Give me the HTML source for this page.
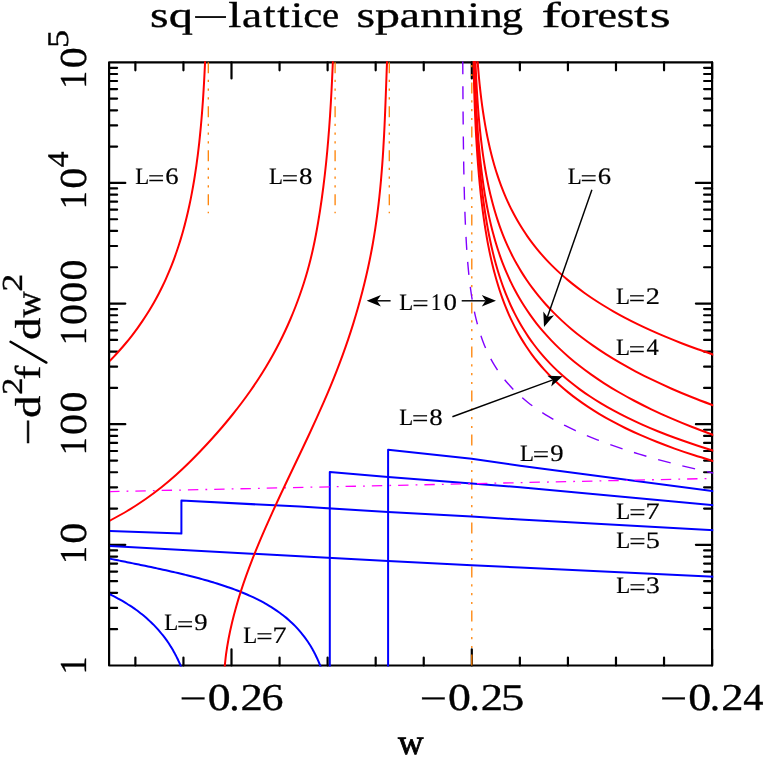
<!DOCTYPE html>
<html><head><meta charset="utf-8"><title>sq-lattice spanning forests</title>
<style>html,body{margin:0;padding:0;background:#fff}svg{display:block}text{font-family:"Liberation Serif",serif;fill:#000;text-rendering:geometricPrecision}</style></head><body>
<svg width="766" height="757" viewBox="0 0 766 757">
<rect width="766" height="757" fill="#fff"/>
<defs><clipPath id="cp"><rect x="110" y="61.2" width="603.2" height="605.4"/></clipPath></defs>
<path d="M135.38 665.5L135.38 657.5M135.38 62.3L135.38 70.3M183.44 665.5L183.44 657.5M183.44 62.3L183.44 70.3M231.5 665.5L231.5 649.3M231.5 62.3L231.5 78.5M279.56 665.5L279.56 657.5M279.56 62.3L279.56 70.3M327.62 665.5L327.62 657.5M327.62 62.3L327.62 70.3M375.68 665.5L375.68 657.5M375.68 62.3L375.68 70.3M423.74 665.5L423.74 657.5M423.74 62.3L423.74 70.3M471.8 665.5L471.8 649.3M471.8 62.3L471.8 78.5M519.86 665.5L519.86 657.5M519.86 62.3L519.86 70.3M567.92 665.5L567.92 657.5M567.92 62.3L567.92 70.3M615.98 665.5L615.98 657.5M615.98 62.3L615.98 70.3M664.04 665.5L664.04 657.5M664.04 62.3L664.04 70.3M712.1 665.5L712.1 649.3M712.1 62.3L712.1 78.5M109.1 629.18L117.1 629.18M712.1 629.18L704.1 629.18M109.1 607.94L117.1 607.94M712.1 607.94L704.1 607.94M109.1 592.87L117.1 592.87M712.1 592.87L704.1 592.87M109.1 581.18L117.1 581.18M712.1 581.18L704.1 581.18M109.1 571.62L117.1 571.62M712.1 571.62L704.1 571.62M109.1 563.55L117.1 563.55M712.1 563.55L704.1 563.55M109.1 556.55L117.1 556.55M712.1 556.55L704.1 556.55M109.1 550.38L117.1 550.38M712.1 550.38L704.1 550.38M109.1 544.86L125.3 544.86M712.1 544.86L695.9 544.86M109.1 508.54L117.1 508.54M712.1 508.54L704.1 508.54M109.1 487.3L117.1 487.3M712.1 487.3L704.1 487.3M109.1 472.23L117.1 472.23M712.1 472.23L704.1 472.23M109.1 460.54L117.1 460.54M712.1 460.54L704.1 460.54M109.1 450.98L117.1 450.98M712.1 450.98L704.1 450.98M109.1 442.91L117.1 442.91M712.1 442.91L704.1 442.91M109.1 435.91L117.1 435.91M712.1 435.91L704.1 435.91M109.1 429.74L117.1 429.74M712.1 429.74L704.1 429.74M109.1 424.22L125.3 424.22M712.1 424.22L695.9 424.22M109.1 387.9L117.1 387.9M712.1 387.9L704.1 387.9M109.1 366.66L117.1 366.66M712.1 366.66L704.1 366.66M109.1 351.59L117.1 351.59M712.1 351.59L704.1 351.59M109.1 339.9L117.1 339.9M712.1 339.9L704.1 339.9M109.1 330.34L117.1 330.34M712.1 330.34L704.1 330.34M109.1 322.27L117.1 322.27M712.1 322.27L704.1 322.27M109.1 315.27L117.1 315.27M712.1 315.27L704.1 315.27M109.1 309.1L117.1 309.1M712.1 309.1L704.1 309.1M109.1 303.58L125.3 303.58M712.1 303.58L695.9 303.58M109.1 267.26L117.1 267.26M712.1 267.26L704.1 267.26M109.1 246.02L117.1 246.02M712.1 246.02L704.1 246.02M109.1 230.95L117.1 230.95M712.1 230.95L704.1 230.95M109.1 219.26L117.1 219.26M712.1 219.26L704.1 219.26M109.1 209.7L117.1 209.7M712.1 209.7L704.1 209.7M109.1 201.63L117.1 201.63M712.1 201.63L704.1 201.63M109.1 194.63L117.1 194.63M712.1 194.63L704.1 194.63M109.1 188.46L117.1 188.46M712.1 188.46L704.1 188.46M109.1 182.94L125.3 182.94M712.1 182.94L695.9 182.94M109.1 146.62L117.1 146.62M712.1 146.62L704.1 146.62M109.1 125.38L117.1 125.38M712.1 125.38L704.1 125.38M109.1 110.31L117.1 110.31M712.1 110.31L704.1 110.31M109.1 98.62L117.1 98.62M712.1 98.62L704.1 98.62M109.1 89.06L117.1 89.06M712.1 89.06L704.1 89.06M109.1 80.99L117.1 80.99M712.1 80.99L704.1 80.99M109.1 73.99L117.1 73.99M712.1 73.99L704.1 73.99M109.1 67.82L117.1 67.82M712.1 67.82L704.1 67.82" stroke="#000" stroke-width="2.2" stroke-linecap="round" fill="none"/>
<rect x="109.1" y="62.3" width="603" height="603.2" fill="none" stroke="#000" stroke-width="2.2" stroke-linejoin="round"/>
<g clip-path="url(#cp)" fill="none" stroke-linejoin="round">
<path d="M208.3 62.3L208.3 213.2" stroke="#ff8000" stroke-width="1.3" stroke-dasharray="11 6.4 2.2 6.6 2.2 6.6 2.2 6.8"/>
<path d="M335.1 62.3L335.1 213.2" stroke="#ff8000" stroke-width="1.3" stroke-dasharray="11 6.4 2.2 6.6 2.2 6.6 2.2 6.8"/>
<path d="M389.3 62.3L389.3 213.2" stroke="#ff8000" stroke-width="1.3" stroke-dasharray="11 6.4 2.2 6.6 2.2 6.6 2.2 6.8"/>
<path d="M471.8 665.5L471.8 62.3" stroke="#ff8000" stroke-width="1.3" stroke-dasharray="11 6.4 2.2 6.6 2.2 6.6 2.2 6.8"/>
<path d="M107 545.8L300 556.3L388.1 560.9L471.7 565.2L520 567.6L716 576.8" stroke="#0000ff" stroke-width="2"/>
<path d="M107 530.9L181.4 533.6L181.4 500.6L300 506.6L388.1 512L471.7 516.6L520 519.6L716 530.3" stroke="#0000ff" stroke-width="2"/>
<path d="M329.8 670L329.8 471.9L388.1 477.1L471.7 483.5L520 487.2L716 505.5" stroke="#0000ff" stroke-width="2"/>
<path d="M388.1 670L388.1 449.7L471.7 458.8L520 465.8L716 491.5" stroke="#0000ff" stroke-width="2"/>
<path d="M106 557.93C106.5 558.03 108 558.33 109 558.53C110 558.73 111 558.93 112 559.13C113 559.33 114 559.53 115 559.73C116 559.93 117 560.13 118 560.33C119 560.53 120 560.74 121 560.94C122 561.14 123 561.34 124 561.54C125 561.74 126 561.95 127 562.15C128 562.35 129 562.55 130 562.75C131 562.96 132 563.16 133 563.36C134 563.57 135 563.77 136 563.98C137 564.18 138 564.39 139 564.59C140 564.8 141 565 142 565.21C143 565.42 144 565.62 145 565.83C146 566.04 147 566.25 148 566.46C149 566.67 150 566.88 151 567.09C152 567.3 153 567.51 154 567.73C155 567.94 156 568.16 157 568.37C158 568.59 159 568.8 160 569.02C161 569.24 162 569.46 163 569.67C164 569.89 165 570.12 166 570.34C167 570.56 168 570.78 169 571.01C170 571.23 171 571.46 172 571.69C173 571.92 174 572.15 175 572.38C176 572.61 177 572.84 178 573.08C179 573.31 180 573.55 181 573.79C182 574.03 183 574.27 184 574.51C185 574.76 186 575 187 575.25C188 575.5 189 575.75 190 576C191 576.25 192 576.5 193 576.76C194 577.02 195 577.28 196 577.54C197 577.8 198 578.07 199 578.34C200 578.6 201 578.87 202 579.15C203 579.42 204 579.7 205 579.98C206 580.26 207 580.54 208 580.83C209 581.12 210 581.41 211 581.71C212 582 213 582.3 214 582.6C215 582.9 216 583.21 217 583.52C218 583.83 219 584.15 220 584.47C221 584.79 222 585.11 223 585.44C224 585.77 225 586.11 226 586.45C227 586.78 228 587.13 229 587.48C230 587.83 231 588.19 232 588.55C233 588.91 234 589.28 235 589.65C236 590.03 237 590.41 238 590.79C239 591.18 240 591.58 241 591.98C242 592.38 243 592.79 244 593.21C245 593.62 246 594.05 247 594.48C248 594.91 249 595.35 250 595.81C251 596.26 252 596.72 253 597.18C254 597.65 255 598.13 256 598.62C257 599.11 258 599.61 259 600.13C260 600.64 261 601.16 262 601.7C263 602.23 264 602.78 265 603.34C266 603.9 267 604.48 268 605.07C269 605.66 270 606.26 271 606.88C272 607.5 273 608.14 274 608.8C275 609.45 276 610.12 277 610.81C278 611.51 279 612.22 280 612.95C281 613.68 282 614.43 283 615.21C284 615.99 285 616.79 286 617.62C287 618.45 288 619.31 289 620.19C290 621.08 291 621.99 292 622.94C293 623.9 294 624.88 295 625.9C296 626.93 297 627.98 298 629.09C299 630.2 300 631.35 301 632.55C302 633.76 303 635.01 304 636.33C305 637.65 306 639.02 307 640.47C308 641.93 309.4 644.13 310 645.06C310.6 645.99 310.4 645.71 310.6 646.04C310.8 646.37 311 646.7 311.2 647.04C311.4 647.37 311.6 647.72 311.8 648.06C312 648.41 312.2 648.76 312.4 649.11C312.6 649.46 312.8 649.82 313 650.18C313.2 650.54 313.4 650.91 313.6 651.28C313.8 651.65 314 652.03 314.2 652.41C314.4 652.79 314.6 653.17 314.8 653.56C315 653.96 315.2 654.35 315.4 654.75C315.6 655.15 315.8 655.56 316 655.97C316.2 656.38 316.4 656.8 316.6 657.22C316.8 657.65 317 658.07 317.2 658.51C317.4 658.95 317.6 659.39 317.8 659.83C318 660.28 318.2 660.74 318.4 661.2C318.6 661.66 318.8 662.13 319 662.6C319.2 663.08 319.4 663.56 319.6 664.05C319.8 664.55 320 665.04 320.2 665.55C320.4 666.06 320.6 666.57 320.8 667.1C321 667.62 321.2 668.16 321.4 668.7C321.6 669.24 321.8 669.79 322 670.35C322.2 670.92 322.4 671.49 322.6 672.07C322.8 672.65 323.1 673.55 323.2 673.85" stroke="#0000ff" stroke-width="2"/>
<path d="M106 592.61C106.5 592.84 108 593.53 109 594C110 594.47 111 594.95 112 595.45C113 595.94 114 596.44 115 596.96C116 597.48 117 598 118 598.54C119 599.08 120 599.63 121 600.2C122 600.76 123 601.34 124 601.93C125 602.52 126 603.12 127 603.74C128 604.36 129 605 130 605.65C131 606.3 132 606.96 133 607.65C134 608.33 135 609.03 136 609.75C137 610.47 138 611.21 139 611.97C140 612.73 141 613.51 142 614.31C143 615.11 144 615.93 145 616.78C146 617.63 147 618.51 148 619.41C149 620.31 150 621.24 151 622.2C152 623.16 153 624.15 154 625.17C155 626.2 156 627.25 157 628.35C158 629.45 159 630.58 160 631.77C161 632.95 162 634.17 163 635.45C164 636.73 165 638.05 166 639.44C167 640.83 168.4 642.92 169 643.79C169.6 644.67 169.4 644.4 169.6 644.71C169.8 645.02 170 645.33 170.2 645.65C170.4 645.97 170.6 646.28 170.8 646.61C171 646.93 171.2 647.25 171.4 647.58C171.6 647.91 171.8 648.24 172 648.57C172.2 648.91 172.4 649.25 172.6 649.59C172.8 649.93 173 650.28 173.2 650.62C173.4 650.97 173.6 651.33 173.8 651.68C174 652.04 174.2 652.4 174.4 652.76C174.6 653.13 174.8 653.5 175 653.87C175.2 654.24 175.4 654.62 175.6 655C175.8 655.38 176 655.77 176.2 656.16C176.4 656.55 176.6 656.94 176.8 657.34C177 657.74 177.2 658.15 177.4 658.55C177.6 658.96 177.8 659.38 178 659.8C178.2 660.22 178.4 660.64 178.6 661.07C178.8 661.5 179 661.94 179.2 662.38C179.4 662.82 179.6 663.27 179.8 663.72C180 664.18 180.2 664.64 180.4 665.11C180.6 665.57 180.8 666.04 181 666.52C181.2 667 181.4 667.49 181.6 667.98C181.8 668.48 182 668.98 182.2 669.49C182.4 670 182.6 670.51 182.8 671.04C183 671.56 183.3 672.37 183.4 672.64" stroke="#0000ff" stroke-width="2"/>
<path d="M109.1 491.62L716 478.37" stroke="#ff00ff" stroke-width="1.3" stroke-dasharray="10.4 7.1 1.8 6.98"/>
<path d="M462.76 61.2C462.77 62.73 462.79 67.34 462.81 70.37C462.82 73.41 462.84 76.41 462.85 79.39C462.87 82.36 462.89 85.32 462.91 88.24C462.92 91.17 462.94 94.06 462.96 96.94C462.98 99.81 463 102.66 463.03 105.48C463.05 108.3 463.07 111.1 463.09 113.87C463.12 116.64 463.14 119.39 463.17 122.12C463.2 124.84 463.22 127.54 463.25 130.22C463.28 132.89 463.31 135.55 463.34 138.17C463.37 140.8 463.41 143.41 463.44 145.99C463.47 148.58 463.51 151.14 463.55 153.68C463.58 156.22 463.62 158.73 463.66 161.23C463.71 163.72 463.75 166.2 463.79 168.65C463.84 171.1 463.88 173.53 463.93 175.95C463.98 178.36 464.03 180.75 464.09 183.12C464.14 185.49 464.2 187.84 464.26 190.17C464.31 192.5 464.38 194.81 464.44 197.1C464.5 199.39 464.57 201.66 464.64 203.91C464.71 206.17 464.79 208.4 464.86 210.62C464.94 212.84 465.02 215.03 465.1 217.22C465.19 219.4 465.28 221.56 465.37 223.71C465.46 225.85 465.56 227.98 465.66 230.09C465.76 232.2 465.86 234.3 465.98 236.38C466.09 238.46 466.2 240.52 466.32 242.57C466.44 244.62 466.57 246.65 466.7 248.66C466.83 250.68 466.97 252.68 467.12 254.67C467.26 256.65 467.41 258.63 467.57 260.58C467.73 262.54 467.89 264.48 468.07 266.41C468.24 268.34 468.42 270.26 468.61 272.16C468.8 274.07 469 275.95 469.21 277.83C469.41 279.71 469.63 281.57 469.86 283.42C470.08 285.28 470.32 287.12 470.57 288.94C470.82 290.77 471.08 292.59 471.35 294.39C471.62 296.2 471.9 297.99 472.2 299.77C472.5 301.56 472.81 303.33 473.14 305.09C473.46 306.85 473.8 308.6 474.16 310.35C474.51 312.09 474.88 313.82 475.27 315.54C475.66 317.27 476.07 318.98 476.5 320.68C476.92 322.39 477.37 324.08 477.84 325.77C478.3 327.46 478.79 329.14 479.3 330.81C479.81 332.48 480.34 334.15 480.9 335.8C481.46 337.46 482.05 339.11 482.66 340.75C483.27 342.39 483.91 344.03 484.58 345.66C485.25 347.29 485.94 348.91 486.68 350.53C487.41 352.15 488.17 353.76 488.98 355.36C489.78 356.97 490.61 358.57 491.49 360.17C492.37 361.76 493.28 363.36 494.24 364.94C495.2 366.53 496.2 368.11 497.25 369.69C498.31 371.27 499.4 372.84 500.55 374.42C501.7 375.99 502.9 377.56 504.16 379.12C505.41 380.69 506.72 382.25 508.1 383.81C509.48 385.37 510.91 386.93 512.42 388.49C513.93 390.04 515.5 391.6 517.15 393.15C518.79 394.7 520.51 396.25 522.32 397.8C524.12 399.36 526 400.9 527.97 402.45C529.95 404 532.01 405.55 534.17 407.1C536.33 408.65 538.58 410.2 540.94 411.75C543.31 413.3 545.77 414.85 548.36 416.4C550.94 417.96 553.64 419.51 556.47 421.06C559.3 422.62 562.25 424.17 565.35 425.73C568.45 427.29 571.67 428.85 575.06 430.42C578.45 431.98 581.98 433.54 585.69 435.11C589.41 436.68 593.27 438.25 597.33 439.83C601.39 441.4 605.61 442.98 610.06 444.57C614.5 446.15 619.13 447.74 623.99 449.33C628.85 450.92 633.91 452.52 639.23 454.12C644.55 455.72 650.09 457.33 655.91 458.94C661.74 460.55 667.8 462.17 674.17 463.79C680.54 465.42 687.17 467.05 694.14 468.68C701.11 470.32 712.36 472.79 716 473.61" stroke="#8000ff" stroke-width="1.4" stroke-dasharray="13 12.1"/>
<path d="M106 364.68C107.2 363.46 110.9 359.78 113.22 357.33C115.54 354.89 117.77 352.45 119.93 350.02C122.09 347.59 124.17 345.17 126.17 342.75C128.18 340.33 130.11 337.92 131.97 335.52C133.83 333.12 135.63 330.72 137.36 328.33C139.09 325.93 140.76 323.55 142.37 321.17C143.98 318.79 145.53 316.42 147.02 314.06C148.52 311.69 149.96 309.33 151.35 306.98C152.74 304.63 154.08 302.28 155.37 299.94C156.67 297.6 157.91 295.27 159.11 292.95C160.31 290.62 161.47 288.3 162.59 285.99C163.7 283.67 164.78 281.37 165.82 279.07C166.85 276.77 167.85 274.47 168.82 272.19C169.78 269.9 170.71 267.62 171.61 265.34C172.5 263.07 173.37 260.8 174.2 258.54C175.03 256.28 175.84 254.03 176.61 251.78C177.39 249.53 178.13 247.29 178.85 245.05C179.57 242.82 180.26 240.59 180.93 238.37C181.6 236.15 182.25 233.93 182.87 231.72C183.49 229.51 184.09 227.31 184.67 225.12C185.24 222.92 185.8 220.73 186.34 218.55C186.88 216.37 187.39 214.19 187.89 212.02C188.39 209.85 188.87 207.69 189.34 205.53C189.8 203.37 190.25 201.22 190.68 199.08C191.11 196.94 191.52 194.8 191.93 192.67C192.33 190.54 192.71 188.41 193.09 186.3C193.46 184.18 193.82 182.07 194.16 179.96C194.51 177.86 194.84 175.76 195.17 173.67C195.49 171.58 195.8 169.49 196.1 167.41C196.4 165.34 196.68 163.26 196.96 161.2C197.24 159.13 197.51 157.07 197.77 155.02C198.02 152.97 198.27 150.92 198.51 148.88C198.75 146.84 198.99 144.81 199.21 142.79C199.43 140.76 199.65 138.74 199.85 136.73C200.06 134.71 200.26 132.71 200.45 130.71C200.65 128.71 200.83 126.71 201.01 124.72C201.19 122.74 201.36 120.76 201.53 118.78C201.7 116.81 201.86 114.84 202.01 112.88C202.17 110.92 202.32 108.96 202.46 107.02C202.61 105.07 202.74 103.13 202.88 101.19C203.01 99.26 203.14 97.33 203.26 95.41C203.39 93.48 203.51 91.57 203.62 89.66C203.74 87.75 203.85 85.85 203.96 83.95C204.07 82.05 204.17 80.17 204.27 78.28C204.37 76.4 204.47 74.52 204.56 72.65C204.65 70.78 204.74 68.92 204.83 67.06C204.91 65.21 205 63.36 205.08 61.51C205.16 59.67 205.27 56.92 205.31 56" stroke="#ff0000" stroke-width="2"/>
<path d="M105.52 523C109.13 521 120.47 515 127.17 511C133.87 507 139.93 503 145.7 499C151.47 495 156.73 491 161.77 487C166.81 483 171.46 479 175.95 475C180.44 471 184.62 467 188.72 463C192.82 459 196.7 455 200.53 451C204.36 447 208.07 443 211.69 439C215.31 435 218.83 431 222.25 427C225.67 423 228.98 419 232.19 415C235.4 411 238.52 407 241.53 403C244.54 399 247.45 395 250.26 391C253.07 387 255.78 383 258.39 379C261 375 263.51 371 265.92 367C268.33 363 270.65 359 272.87 355C275.09 351 277.21 347 279.25 343C281.29 339 283.24 335 285.11 331C286.98 327 288.76 323 290.47 319C292.18 315 293.8 311 295.36 307C296.92 303 298.39 299 299.81 295C301.23 291 302.57 287 303.85 283C305.13 279 306.34 275 307.47 271C308.6 267 309.65 263 310.64 259C311.63 255 312.55 251 313.42 247C314.29 243 315.09 239 315.85 235C316.62 231 317.32 227 318.01 223C318.69 219 319.34 215 319.96 211C320.58 207 321.17 203 321.73 199C322.29 195 322.82 191 323.33 187C323.84 183 324.32 179 324.78 175C325.24 171 325.68 167 326.09 163C326.5 159 326.89 155 327.26 151C327.63 147 327.97 143 328.3 139C328.63 135 328.94 131 329.24 127C329.54 123 329.82 119 330.08 115C330.34 111 330.58 107 330.82 103C331.06 99 331.28 95 331.49 91C331.7 87 331.91 83 332.1 79C332.29 75 332.46 71 332.64 67C332.81 63 333.06 57 333.15 55" stroke="#ff0000" stroke-width="2"/>
<path d="M224.41 670C224.69 667.37 225.37 659.49 226.07 654.23C226.77 648.97 227.63 643.72 228.62 638.46C229.61 633.2 230.75 627.95 232 622.69C233.25 617.43 234.63 612.18 236.12 606.92C237.61 601.66 239.21 596.41 240.91 591.15C242.61 585.89 244.42 580.63 246.3 575.38C248.19 570.12 250.17 564.88 252.22 559.62C254.27 554.37 256.4 549.11 258.59 543.85C260.78 538.59 263.04 533.34 265.34 528.08C267.64 522.82 270 517.57 272.39 512.31C274.78 507.05 277.23 501.8 279.68 496.54C282.13 491.28 284.62 486.03 287.11 480.77C289.6 475.51 292.12 470.26 294.62 465C297.12 459.74 299.64 454.49 302.13 449.23C304.62 443.97 307.1 438.72 309.55 433.46C312 428.2 314.44 422.95 316.82 417.69C319.2 412.43 321.55 407.18 323.84 401.92C326.13 396.66 328.39 391.41 330.56 386.15C332.73 380.89 334.84 375.63 336.88 370.38C338.92 365.12 340.9 359.88 342.81 354.62C344.72 349.37 346.55 344.11 348.32 338.85C350.09 333.59 351.79 328.34 353.42 323.08C355.05 317.82 356.62 312.57 358.11 307.31C359.6 302.05 361.02 296.8 362.38 291.54C363.74 286.28 365.02 281.03 366.24 275.77C367.46 270.51 368.6 265.26 369.68 260C370.76 254.74 371.76 249.49 372.7 244.23C373.64 238.97 374.5 233.72 375.3 228.46C376.1 223.2 376.82 217.95 377.5 212.69C378.18 207.43 378.79 202.18 379.36 196.92C379.93 191.66 380.44 186.41 380.91 181.15C381.38 175.89 381.81 170.63 382.2 165.38C382.59 160.12 382.94 154.88 383.26 149.62C383.58 144.37 383.87 139.11 384.14 133.85C384.41 128.59 384.65 123.34 384.88 118.08C385.11 112.82 385.31 107.57 385.52 102.31C385.72 97.05 385.92 91.8 386.11 86.54C386.3 81.28 386.48 76.03 386.68 70.77C386.88 65.51 387.19 57.63 387.29 55" stroke="#ff0000" stroke-width="2"/>
<path d="M477.23 56C477.31 57.03 477.55 60.12 477.71 62.18C477.87 64.25 478.02 66.31 478.18 68.37C478.35 70.43 478.52 72.5 478.7 74.56C478.89 76.62 479.08 78.69 479.28 80.75C479.48 82.81 479.69 84.88 479.9 86.94C480.12 89.01 480.35 91.07 480.59 93.14C480.83 95.2 481.07 97.27 481.33 99.34C481.59 101.4 481.86 103.47 482.14 105.54C482.42 107.6 482.72 109.67 483.02 111.74C483.33 113.81 483.65 115.88 483.98 117.95C484.31 120.01 484.65 122.08 485.01 124.15C485.37 126.22 485.74 128.29 486.13 130.36C486.52 132.43 486.92 134.51 487.34 136.58C487.76 138.65 488.2 140.72 488.66 142.79C489.11 144.86 489.58 146.94 490.07 149.01C490.57 151.08 491.08 153.16 491.61 155.23C492.14 157.3 492.69 159.38 493.27 161.45C493.84 163.53 494.44 165.6 495.06 167.68C495.68 169.75 496.33 171.83 497 173.9C497.67 175.98 498.37 178.06 499.1 180.13C499.82 182.21 500.58 184.29 501.36 186.37C502.15 188.44 502.96 190.52 503.81 192.6C504.66 194.68 505.53 196.76 506.45 198.84C507.37 200.92 508.32 203 509.31 205.08C510.3 207.16 511.32 209.24 512.39 211.32C513.46 213.4 514.57 215.48 515.73 217.56C516.88 219.65 518.08 221.73 519.33 223.81C520.58 225.89 521.87 227.98 523.22 230.06C524.57 232.14 525.96 234.23 527.42 236.31C528.88 238.4 530.39 240.48 531.96 242.57C533.53 244.65 535.16 246.74 536.86 248.82C538.56 250.91 540.33 252.99 542.16 255.08C544 257.17 545.9 259.26 547.88 261.34C549.87 263.43 551.92 265.52 554.07 267.61C556.21 269.69 558.43 271.78 560.74 273.87C563.06 275.96 565.46 278.05 567.96 280.14C570.46 282.23 573.05 284.32 575.75 286.41C578.45 288.5 581.25 290.59 584.17 292.69C587.08 294.78 590.11 296.87 593.26 298.96C596.41 301.05 599.67 303.15 603.08 305.24C606.48 307.33 610.01 309.43 613.69 311.52C617.37 313.61 621.17 315.71 625.15 317.8C629.12 319.9 633.23 321.99 637.53 324.09C641.82 326.18 646.26 328.28 650.9 330.38C655.53 332.47 660.33 334.57 665.34 336.67C670.35 338.77 675.53 340.86 680.94 342.96C686.35 345.06 691.95 347.16 697.8 349.26C703.64 351.35 712.97 354.5 716 355.55" stroke="#ff0000" stroke-width="2"/>
<path d="M475.25 56C475.29 56.95 475.38 59.8 475.46 61.72C475.53 63.64 475.62 65.57 475.7 67.51C475.79 69.45 475.88 71.4 475.97 73.36C476.07 75.32 476.16 77.3 476.26 79.28C476.37 81.27 476.47 83.26 476.58 85.27C476.7 87.28 476.81 89.3 476.93 91.33C477.06 93.36 477.18 95.4 477.32 97.45C477.45 99.5 477.59 101.56 477.74 103.64C477.89 105.71 478.04 107.8 478.2 109.9C478.36 111.99 478.53 114.1 478.71 116.22C478.89 118.34 479.08 120.47 479.27 122.61C479.47 124.75 479.68 126.91 479.89 129.07C480.11 131.24 480.34 133.41 480.58 135.6C480.82 137.79 481.07 139.98 481.34 142.19C481.6 144.4 481.88 146.62 482.17 148.85C482.46 151.09 482.77 153.33 483.09 155.58C483.42 157.84 483.76 160.1 484.12 162.38C484.47 164.65 484.85 166.94 485.24 169.24C485.64 171.54 486.05 173.85 486.49 176.17C486.93 178.49 487.39 180.82 487.87 183.17C488.35 185.51 488.86 187.87 489.4 190.23C489.93 192.6 490.49 194.98 491.08 197.36C491.67 199.75 492.29 202.15 492.95 204.56C493.6 206.98 494.29 209.4 495.01 211.83C495.74 214.26 496.49 216.71 497.3 219.16C498.1 221.62 498.93 224.09 499.82 226.57C500.71 229.04 501.63 231.53 502.61 234.03C503.59 236.53 504.62 239.05 505.7 241.57C506.79 244.09 507.92 246.63 509.12 249.17C510.32 251.72 511.58 254.27 512.9 256.84C514.23 259.41 515.62 261.99 517.09 264.58C518.56 267.17 520.09 269.77 521.72 272.38C523.34 275 525.04 277.62 526.84 280.26C528.63 282.89 530.51 285.54 532.5 288.2C534.49 290.85 536.56 293.52 538.76 296.2C540.96 298.88 543.26 301.57 545.7 304.28C548.13 306.98 550.67 309.69 553.36 312.42C556.06 315.14 558.87 317.88 561.85 320.62C564.83 323.37 567.94 326.13 571.23 328.9C574.53 331.67 577.97 334.45 581.61 337.24C585.26 340.03 589.07 342.84 593.1 345.65C597.13 348.47 601.35 351.29 605.81 354.13C610.27 356.97 614.93 359.81 619.86 362.67C624.8 365.53 629.96 368.4 635.42 371.29C640.87 374.17 646.58 377.06 652.62 379.97C658.66 382.87 664.97 385.78 671.65 388.71C678.33 391.64 685.32 394.58 692.71 397.52C700.1 400.47 712.12 404.93 716 406.41" stroke="#ff0000" stroke-width="2"/>
<path d="M474.35 56C474.38 57.15 474.47 60.6 474.54 62.91C474.61 65.22 474.68 67.53 474.75 69.85C474.82 72.18 474.9 74.51 474.98 76.85C475.06 79.18 475.15 81.53 475.24 83.88C475.33 86.23 475.42 88.59 475.52 90.96C475.62 93.33 475.72 95.7 475.84 98.08C475.95 100.46 476.06 102.85 476.18 105.24C476.31 107.64 476.44 110.04 476.57 112.45C476.71 114.86 476.85 117.28 477 119.7C477.15 122.12 477.31 124.55 477.48 126.99C477.64 129.43 477.82 131.88 478 134.33C478.19 136.78 478.38 139.24 478.59 141.71C478.79 144.17 479.01 146.65 479.24 149.13C479.46 151.61 479.7 154.1 479.95 156.59C480.21 159.09 480.47 161.59 480.75 164.1C481.03 166.61 481.32 169.13 481.63 171.65C481.94 174.17 482.27 176.7 482.61 179.24C482.95 181.78 483.31 184.33 483.69 186.88C484.07 189.43 484.47 191.99 484.89 194.56C485.32 197.13 485.76 199.7 486.23 202.28C486.69 204.86 487.18 207.45 487.7 210.05C488.22 212.64 488.76 215.24 489.34 217.85C489.91 220.46 490.52 223.08 491.15 225.71C491.79 228.33 492.46 230.96 493.16 233.6C493.87 236.24 494.61 238.88 495.39 241.54C496.18 244.19 497 246.85 497.86 249.52C498.73 252.18 499.64 254.86 500.6 257.54C501.57 260.22 502.57 262.91 503.64 265.6C504.71 268.3 505.82 271 507 273.71C508.19 276.42 509.42 279.14 510.74 281.87C512.05 284.59 513.42 287.32 514.87 290.06C516.32 292.8 517.84 295.54 519.45 298.3C521.07 301.05 522.75 303.81 524.54 306.58C526.32 309.35 528.19 312.12 530.17 314.9C532.15 317.68 534.22 320.47 536.41 323.27C538.61 326.06 540.9 328.87 543.33 331.68C545.77 334.49 548.31 337.31 551.01 340.13C553.7 342.96 556.52 345.79 559.51 348.63C562.5 351.47 565.62 354.31 568.94 357.16C572.25 360.02 575.71 362.88 579.39 365.75C583.06 368.61 586.9 371.49 590.97 374.37C595.04 377.25 599.3 380.14 603.81 383.04C608.32 385.93 613.04 388.84 618.04 391.75C623.04 394.66 628.27 397.58 633.82 400.5C639.36 403.43 645.16 406.36 651.31 409.3C657.45 412.24 663.88 415.18 670.69 418.14C677.5 421.09 684.63 424.05 692.18 427.02C699.73 429.99 712.03 434.46 716 435.94" stroke="#ff0000" stroke-width="2"/>
<path d="M473.87 56C473.91 57.64 474.05 62.56 474.14 65.82C474.22 69.08 474.31 72.33 474.4 75.57C474.5 78.8 474.6 82.03 474.71 85.25C474.82 88.46 474.94 91.67 475.07 94.86C475.2 98.06 475.33 101.24 475.47 104.41C475.62 107.58 475.77 110.74 475.93 113.89C476.09 117.04 476.25 120.18 476.43 123.3C476.61 126.43 476.79 129.55 476.99 132.65C477.18 135.76 477.39 138.85 477.6 141.93C477.82 145.01 478.05 148.08 478.28 151.14C478.52 154.2 478.77 157.25 479.03 160.29C479.29 163.32 479.56 166.35 479.85 169.36C480.13 172.38 480.43 175.38 480.75 178.38C481.06 181.37 481.39 184.35 481.73 187.32C482.07 190.29 482.43 193.25 482.81 196.2C483.19 199.14 483.58 202.08 483.99 205C484.4 207.93 484.83 210.84 485.29 213.75C485.74 216.65 486.21 219.54 486.7 222.42C487.2 225.3 487.71 228.17 488.26 231.03C488.8 233.89 489.36 236.73 489.95 239.57C490.55 242.41 491.16 245.23 491.81 248.04C492.46 250.86 493.14 253.66 493.85 256.45C494.56 259.24 495.3 262.02 496.07 264.79C496.85 267.56 497.66 270.31 498.51 273.06C499.36 275.81 500.24 278.54 501.18 281.27C502.11 283.99 503.07 286.7 504.09 289.4C505.11 292.1 506.17 294.79 507.29 297.47C508.4 300.15 509.56 302.82 510.78 305.48C512 308.13 513.27 310.78 514.6 313.41C515.94 316.05 517.33 318.67 518.79 321.28C520.25 323.89 521.77 326.5 523.37 329.08C524.96 331.67 526.63 334.25 528.38 336.82C530.12 339.39 531.94 341.94 533.86 344.49C535.77 347.03 537.76 349.57 539.86 352.09C541.95 354.61 544.13 357.12 546.42 359.62C548.71 362.12 551.1 364.61 553.6 367.09C556.11 369.57 558.72 372.03 561.46 374.49C564.21 376.94 567.06 379.39 570.07 381.82C573.07 384.25 576.19 386.67 579.48 389.08C582.76 391.49 586.18 393.89 589.78 396.28C593.37 398.67 597.11 401.05 601.05 403.41C604.98 405.78 609.07 408.13 613.38 410.48C617.68 412.82 622.16 415.15 626.87 417.47C631.58 419.79 636.49 422.1 641.64 424.4C646.79 426.7 652.16 428.99 657.8 431.26C663.44 433.54 669.31 435.8 675.48 438.06C681.65 440.31 688.07 442.55 694.83 444.79C701.58 447.02 712.47 450.34 716 451.45" stroke="#ff0000" stroke-width="2"/>
<path d="M473.47 56C473.5 57.71 473.61 62.87 473.68 66.28C473.74 69.7 473.79 73.1 473.87 76.49C473.94 79.87 474.02 83.25 474.11 86.61C474.2 89.97 474.3 93.32 474.41 96.66C474.52 100 474.63 103.32 474.76 106.63C474.89 109.94 475.02 113.24 475.16 116.52C475.31 119.81 475.46 123.08 475.62 126.34C475.78 129.6 475.95 132.85 476.13 136.08C476.32 139.31 476.51 142.53 476.71 145.74C476.91 148.95 477.12 152.14 477.34 155.32C477.57 158.5 477.8 161.67 478.05 164.83C478.29 167.98 478.55 171.12 478.82 174.25C479.09 177.38 479.38 180.5 479.68 183.6C479.97 186.71 480.29 189.8 480.61 192.88C480.94 195.95 481.29 199.02 481.65 202.07C482.01 205.12 482.38 208.16 482.78 211.19C483.18 214.21 483.59 217.23 484.02 220.23C484.46 223.23 484.91 226.21 485.39 229.19C485.87 232.16 486.37 235.12 486.89 238.07C487.41 241.02 487.96 243.95 488.53 246.88C489.11 249.8 489.71 252.71 490.34 255.6C490.97 258.5 491.62 261.38 492.31 264.26C493 267.13 493.72 269.98 494.48 272.83C495.24 275.67 496.03 278.5 496.86 281.32C497.69 284.14 498.55 286.95 499.46 289.74C500.38 292.53 501.32 295.31 502.32 298.08C503.32 300.85 504.36 303.6 505.46 306.34C506.55 309.08 507.69 311.81 508.89 314.53C510.09 317.24 511.34 319.95 512.66 322.63C513.98 325.32 515.35 328 516.79 330.66C518.23 333.33 519.74 335.98 521.32 338.62C522.9 341.25 524.55 343.88 526.29 346.49C528.02 349.1 529.83 351.7 531.73 354.29C533.63 356.87 535.61 359.44 537.7 362C539.78 364.56 541.95 367.11 544.24 369.64C546.53 372.18 548.91 374.7 551.42 377.21C553.92 379.72 556.53 382.21 559.28 384.69C562.03 387.18 564.89 389.65 567.91 392.1C570.92 394.56 574.06 397 577.36 399.43C580.66 401.86 584.1 404.28 587.73 406.68C591.35 409.09 595.12 411.48 599.09 413.86C603.06 416.24 607.2 418.6 611.55 420.96C615.91 423.31 620.44 425.65 625.21 427.98C629.99 430.3 634.96 432.62 640.19 434.92C645.43 437.22 650.88 439.51 656.61 441.78C662.35 444.06 668.33 446.32 674.62 448.57C680.91 450.82 687.46 453.05 694.36 455.28C701.26 457.5 712.39 460.8 716 461.91" stroke="#ff0000" stroke-width="2"/>
</g>
<g opacity="0.999">
<text transform="matrix(1.3265 0 0 1 149.94 27.1)" font-size="36" stroke="#000" stroke-width="0.35">s</text>
<text transform="matrix(1.3459 0 0 1 168.75 27.1)" font-size="36" stroke="#000" stroke-width="0.35">q</text>
<text transform="matrix(1.8028 0 0 1 192.17 28.6)" font-size="36" stroke="#000" stroke-width="0.35">−</text>
<text transform="matrix(1.3083 0 0 1 228.36 27.1)" font-size="36" stroke="#000" stroke-width="0.35">l</text>
<text transform="matrix(1.2587 0 0 1 242.11 27.1)" font-size="36" stroke="#000" stroke-width="0.35">a</text>
<text transform="matrix(1.2289 0 0 1 263.17 27.1)" font-size="36" stroke="#000" stroke-width="0.35">t</text>
<text transform="matrix(1.2395 0 0 1 277.26 27.1)" font-size="36" stroke="#000" stroke-width="0.35">t</text>
<text transform="matrix(1.2499 0 0 1 290.86 27.1)" font-size="36" stroke="#000" stroke-width="0.35">i</text>
<text transform="matrix(1.1926 0 0 1 303.36 27.1)" font-size="36" stroke="#000" stroke-width="0.35">c</text>
<text transform="matrix(1.0732 0 0 1 321.99 27.1)" font-size="36" stroke="#000" stroke-width="0.35">e</text>
<text transform="matrix(1.3265 0 0 1 356.44 27.1)" font-size="36" stroke="#000" stroke-width="0.35">s</text>
<text transform="matrix(1.3926 0 0 1 374.99 27.1)" font-size="36" stroke="#000" stroke-width="0.35">p</text>
<text transform="matrix(1.2587 0 0 1 399.71 27.1)" font-size="36" stroke="#000" stroke-width="0.35">a</text>
<text transform="matrix(1.2929 0 0 1 420.13 27.1)" font-size="36" stroke="#000" stroke-width="0.35">n</text>
<text transform="matrix(1.311 0 0 1 443.42 27.1)" font-size="36" stroke="#000" stroke-width="0.35">n</text>
<text transform="matrix(1.2733 0 0 1 467.34 27.1)" font-size="36" stroke="#000" stroke-width="0.35">i</text>
<text transform="matrix(1.2508 0 0 1 480.17 27.1)" font-size="36" stroke="#000" stroke-width="0.35">n</text>
<text transform="matrix(1.1796 0 0 1 501.78 27.1)" font-size="36" stroke="#000" stroke-width="0.35">g</text>
<text transform="matrix(1.5991 0 0 1 541.53 27.1)" font-size="36" stroke="#000" stroke-width="0.35">f</text>
<text transform="matrix(1.1666 0 0 1 559.9 27.1)" font-size="36" stroke="#000" stroke-width="0.35">o</text>
<text transform="matrix(1.4245 0 0 1 581.27 27.1)" font-size="36" stroke="#000" stroke-width="0.35">r</text>
<text transform="matrix(1.2158 0 0 1 597.39 27.1)" font-size="36" stroke="#000" stroke-width="0.35">e</text>
<text transform="matrix(1.2553 0 0 1 616.65 27.1)" font-size="36" stroke="#000" stroke-width="0.35">s</text>
<text transform="matrix(1.3878 0 0 1 633.91 27.1)" font-size="36" stroke="#000" stroke-width="0.35">t</text>
<text transform="matrix(1.4957 0 0 1 649.79 27.1)" font-size="36" stroke="#000" stroke-width="0.35">s</text>
<text transform="matrix(1.2668 0 0 1 179.5 710.5)" font-size="38" stroke="#000" stroke-width="0.35">−</text>
<text transform="matrix(1.2046 0 0 1 207.76 709.5)" font-size="38" stroke="#000" stroke-width="0.35">0</text>
<text transform="matrix(1.0913 0 0 1 229.27 709.5)" font-size="38" stroke="#000" stroke-width="0.35">.</text>
<text transform="matrix(1.1685 0 0 1 240.55 709.5)" font-size="38" stroke="#000" stroke-width="0.35">2</text>
<text transform="matrix(1.158 0 0 1 261.51 709.5)" font-size="38" stroke="#000" stroke-width="0.35">6</text>
<text transform="matrix(1.2668 0 0 1 419.8 710.5)" font-size="38" stroke="#000" stroke-width="0.35">−</text>
<text transform="matrix(1.2046 0 0 1 448.06 709.5)" font-size="38" stroke="#000" stroke-width="0.35">0</text>
<text transform="matrix(1.0913 0 0 1 469.57 709.5)" font-size="38" stroke="#000" stroke-width="0.35">.</text>
<text transform="matrix(1.1685 0 0 1 480.85 709.5)" font-size="38" stroke="#000" stroke-width="0.35">2</text>
<text transform="matrix(1.2281 0 0 1 500.99 709.5)" font-size="38" stroke="#000" stroke-width="0.35">5</text>
<text transform="matrix(1.2668 0 0 1 660.1 710.5)" font-size="38" stroke="#000" stroke-width="0.35">−</text>
<text transform="matrix(1.2046 0 0 1 688.36 709.5)" font-size="38" stroke="#000" stroke-width="0.35">0</text>
<text transform="matrix(1.0913 0 0 1 709.87 709.5)" font-size="38" stroke="#000" stroke-width="0.35">.</text>
<text transform="matrix(1.1685 0 0 1 721.15 709.5)" font-size="38" stroke="#000" stroke-width="0.35">2</text>
<text transform="matrix(1.0643 0 0 1 743.21 709.5)" font-size="38" stroke="#000" stroke-width="0.35">4</text>
<text transform="matrix(0.9943 0 0 1 397.97 754.2)" font-size="35.5" stroke="#000" stroke-width="0.9">w</text>
<text transform="matrix(0 -0.9418 1 0 85.7 88.65)" font-size="38" stroke="#000" stroke-width="0.35">1</text>
<text transform="matrix(0 -1.1052 1 0 85.7 68.2)" font-size="38" stroke="#000" stroke-width="0.35">0</text>
<text transform="matrix(0 -1.2081 1 0 68 48.01)" font-size="30" stroke="#000" stroke-width="0.35">5</text>
<text transform="matrix(0 -0.9418 1 0 85.7 209.3)" font-size="38" stroke="#000" stroke-width="0.35">1</text>
<text transform="matrix(0 -1.1052 1 0 85.7 188.85)" font-size="38" stroke="#000" stroke-width="0.35">0</text>
<text transform="matrix(0 -1.0469 1 0 68 167.16)" font-size="30" stroke="#000" stroke-width="0.35">4</text>
<text transform="matrix(0 -0.9418 1 0 85.7 345.35)" font-size="38" stroke="#000" stroke-width="0.35">1</text>
<text transform="matrix(0 -1.1052 1 0 85.7 325.1)" font-size="38" stroke="#000" stroke-width="0.35">0</text>
<text transform="matrix(0 -1.1052 1 0 85.7 302.8)" font-size="38" stroke="#000" stroke-width="0.35">0</text>
<text transform="matrix(0 -1.1052 1 0 85.7 280.5)" font-size="38" stroke="#000" stroke-width="0.35">0</text>
<text transform="matrix(0 -0.9418 1 0 85.7 455.15)" font-size="38" stroke="#000" stroke-width="0.35">1</text>
<text transform="matrix(0 -1.1052 1 0 85.7 434.9)" font-size="38" stroke="#000" stroke-width="0.35">0</text>
<text transform="matrix(0 -1.1052 1 0 85.7 412.6)" font-size="38" stroke="#000" stroke-width="0.35">0</text>
<text transform="matrix(0 -0.9418 1 0 85.7 564.05)" font-size="38" stroke="#000" stroke-width="0.35">1</text>
<text transform="matrix(0 -1.1052 1 0 85.7 543.8)" font-size="38" stroke="#000" stroke-width="0.35">0</text>
<text transform="matrix(0 -0.9418 1 0 85.7 674.55)" font-size="38" stroke="#000" stroke-width="0.35">1</text>
<text transform="matrix(0 -1.3133 1 0 40.1 445.25)" font-size="36" stroke="#000" stroke-width="0.65">−</text>
<text transform="matrix(0 -1.2362 1 0 39.5 418.11)" font-size="36" stroke="#000" stroke-width="0.35">d</text>
<text transform="matrix(0 -1.187 1 0 22 394.81)" font-size="29" stroke="#000" stroke-width="0.35">2</text>
<text transform="matrix(0 -1.1488 1 0 39.5 379.47)" font-size="36" stroke="#000" stroke-width="0.35">f</text>
<text transform="matrix(0 -1.2362 1 0 39.5 340.01)" font-size="36" stroke="#000" stroke-width="0.35">d</text>
<text transform="matrix(0 -0.9998 1 0 39.5 317.14)" font-size="36" stroke="#000" stroke-width="0.35">w</text>
<text transform="matrix(0 -1.2473 1 0 22 291.69)" font-size="29" stroke="#000" stroke-width="0.35">2</text>
<path d="M46.4 362.6L10.5 341.8" stroke="#000" stroke-width="2.4" stroke-linecap="round" fill="none"/>
<text transform="matrix(0.9619 0 0 1 135.24 184.1)" font-size="23.7" stroke="#000" stroke-width="0.2">L</text>
<text transform="matrix(1.2241 0 0 1 148.06 185.5)" font-size="23.7" stroke="#000" stroke-width="0.2">=</text>
<text transform="matrix(1.1258 0 0 1 165.15 184.1)" font-size="23.7" stroke="#000" stroke-width="0.2">6</text>
<text transform="matrix(0.9619 0 0 1 268.94 184.2)" font-size="23.7" stroke="#000" stroke-width="0.2">L</text>
<text transform="matrix(1.2241 0 0 1 281.76 185.6)" font-size="23.7" stroke="#000" stroke-width="0.2">=</text>
<text transform="matrix(1.1349 0 0 1 298.98 184.2)" font-size="23.7" stroke="#000" stroke-width="0.2">8</text>
<text transform="matrix(0.9619 0 0 1 567.74 184.2)" font-size="23.7" stroke="#000" stroke-width="0.2">L</text>
<text transform="matrix(1.2241 0 0 1 580.56 185.6)" font-size="23.7" stroke="#000" stroke-width="0.2">=</text>
<text transform="matrix(1.1258 0 0 1 597.65 184.2)" font-size="23.7" stroke="#000" stroke-width="0.2">6</text>
<text transform="matrix(0.9619 0 0 1 399.34 310)" font-size="23.7" stroke="#000" stroke-width="0.2">L</text>
<text transform="matrix(1.2241 0 0 1 412.16 311.4)" font-size="23.7" stroke="#000" stroke-width="0.2">=</text>
<text transform="matrix(0.8749 0 0 1 431.08 310)" font-size="23.7" stroke="#000" stroke-width="0.2">1</text>
<text transform="matrix(1.1349 0 0 1 443.38 310)" font-size="23.7" stroke="#000" stroke-width="0.2">0</text>
<text transform="matrix(0.9619 0 0 1 399.24 424.6)" font-size="23.7" stroke="#000" stroke-width="0.2">L</text>
<text transform="matrix(1.2241 0 0 1 412.06 426)" font-size="23.7" stroke="#000" stroke-width="0.2">=</text>
<text transform="matrix(1.1349 0 0 1 429.28 424.6)" font-size="23.7" stroke="#000" stroke-width="0.2">8</text>
<text transform="matrix(0.9619 0 0 1 615.94 304.4)" font-size="23.7" stroke="#000" stroke-width="0.2">L</text>
<text transform="matrix(1.2241 0 0 1 628.76 305.8)" font-size="23.7" stroke="#000" stroke-width="0.2">=</text>
<text transform="matrix(1.1999 0 0 1 645.75 304.4)" font-size="23.7" stroke="#000" stroke-width="0.2">2</text>
<text transform="matrix(0.9619 0 0 1 615.94 355.4)" font-size="23.7" stroke="#000" stroke-width="0.2">L</text>
<text transform="matrix(1.2241 0 0 1 628.76 356.8)" font-size="23.7" stroke="#000" stroke-width="0.2">=</text>
<text transform="matrix(1.0348 0 0 1 646.52 355.4)" font-size="23.7" stroke="#000" stroke-width="0.2">4</text>
<text transform="matrix(0.9619 0 0 1 520.04 461)" font-size="23.7" stroke="#000" stroke-width="0.2">L</text>
<text transform="matrix(1.2241 0 0 1 532.86 462.4)" font-size="23.7" stroke="#000" stroke-width="0.2">=</text>
<text transform="matrix(1.1271 0 0 1 550.24 461)" font-size="23.7" stroke="#000" stroke-width="0.2">9</text>
<text transform="matrix(0.9619 0 0 1 616.34 518.8)" font-size="23.7" stroke="#000" stroke-width="0.2">L</text>
<text transform="matrix(1.2241 0 0 1 629.16 520.2)" font-size="23.7" stroke="#000" stroke-width="0.2">=</text>
<text transform="matrix(1.1869 0 0 1 645.55 518.8)" font-size="23.7" stroke="#000" stroke-width="0.2">7</text>
<text transform="matrix(0.9619 0 0 1 616.34 547.6)" font-size="23.7" stroke="#000" stroke-width="0.2">L</text>
<text transform="matrix(1.2241 0 0 1 629.16 549)" font-size="23.7" stroke="#000" stroke-width="0.2">=</text>
<text transform="matrix(1.1941 0 0 1 645.76 547.6)" font-size="23.7" stroke="#000" stroke-width="0.2">5</text>
<text transform="matrix(0.9619 0 0 1 616.34 593.2)" font-size="23.7" stroke="#000" stroke-width="0.2">L</text>
<text transform="matrix(1.2241 0 0 1 629.16 594.6)" font-size="23.7" stroke="#000" stroke-width="0.2">=</text>
<text transform="matrix(1.1644 0 0 1 646.08 593.2)" font-size="23.7" stroke="#000" stroke-width="0.2">3</text>
<text transform="matrix(0.9619 0 0 1 164.14 630.1)" font-size="23.7" stroke="#000" stroke-width="0.2">L</text>
<text transform="matrix(1.2241 0 0 1 176.96 631.5)" font-size="23.7" stroke="#000" stroke-width="0.2">=</text>
<text transform="matrix(1.1271 0 0 1 194.34 630.1)" font-size="23.7" stroke="#000" stroke-width="0.2">9</text>
<text transform="matrix(0.9619 0 0 1 243.34 642.5)" font-size="23.7" stroke="#000" stroke-width="0.2">L</text>
<text transform="matrix(1.2241 0 0 1 256.16 643.9)" font-size="23.7" stroke="#000" stroke-width="0.2">=</text>
<text transform="matrix(1.1869 0 0 1 272.55 642.5)" font-size="23.7" stroke="#000" stroke-width="0.2">7</text>
<path d="M390.6 300.8L377.1 300.8" stroke="#000" stroke-width="1.45" fill="none"/>
<path d="M366.7 300.8L380.9 295.1L377.1 300.8L380.9 306.5Z" fill="#000"/>
<path d="M461.7 300.8L485.6 300.8" stroke="#000" stroke-width="1.45" fill="none"/>
<path d="M496 300.8L481.8 306.5L485.6 300.8L481.8 295.1Z" fill="#000"/>
<path d="M591.9 189.7L547.43 317.08" stroke="#000" stroke-width="1.45" fill="none"/>
<path d="M544 326.9L543.3 311.61L547.43 317.08L554.06 315.37Z" fill="#000"/>
<path d="M452.4 416.7L552.84 379.88" stroke="#000" stroke-width="1.45" fill="none"/>
<path d="M562.6 376.3L551.23 386.54L552.84 379.88L547.31 375.84Z" fill="#000"/>
</g>
</svg></body></html>
